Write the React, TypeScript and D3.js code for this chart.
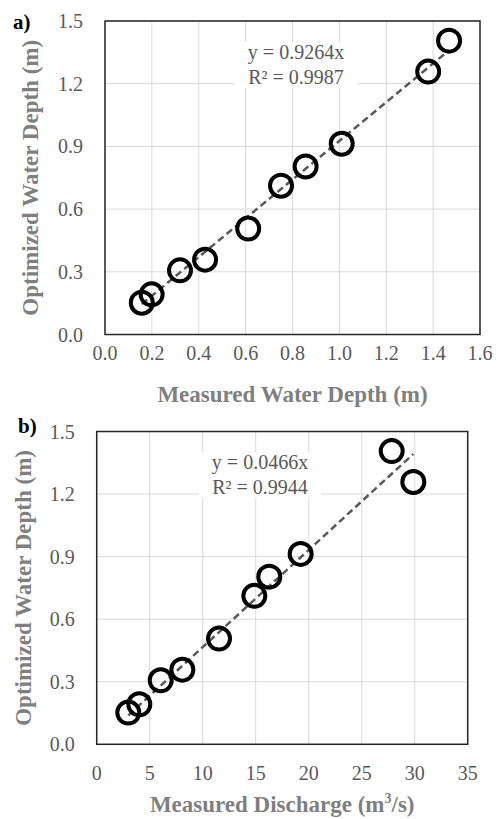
import React from "react";
import * as d3 from "d3";

// optimized water depth (m), shared by both panels
const optimizedDepth = [0.152, 0.192, 0.307, 0.358, 0.507, 0.712, 0.804, 0.913, 1.258, 1.406];
// panel a: measured water depth (m)
const measuredDepth = [0.157, 0.199, 0.32, 0.427, 0.611, 0.751, 0.856, 1.01, 1.379, 1.468];
// panel b: measured discharge (m3/s)
const measuredDischarge = [2.98, 4.02, 6.04, 8.08, 11.54, 14.87, 16.28, 19.24, 29.87, 27.83];

const depthTicks = [0, 0.2, 0.4, 0.6, 0.8, 1.0, 1.2, 1.4, 1.6];
const dischargeTicks = [0, 5, 10, 15, 20, 25, 30, 35];
const yTicks = [0, 0.3, 0.6, 0.9, 1.2, 1.5];

const slopeA = 0.9264;
const slopeB = 0.0466;
const eqA = ["y = 0.9264x", "R² = 0.9987"];
const eqB = ["y = 0.0466x", "R² = 0.9944"];

const FONT = "'Liberation Serif', 'Times New Roman', serif";
const TICK = "#595959";
const TITLE = "#7f7f7f";

type PanelProps = {
  xs: number[];
  xTicks: number[];
  xFmt: (v: number) => string;
  slope: number;
  eq: string[];
  box: { left: number; top: number; right: number; bottom: number };
  eqX: number;
  eqY: number;
  tag: string;
  tagX: number;
  tagY: number;
  yTitleX: number;
  xTickY: number;
  xTitleY: number;
  xTitle: React.ReactNode;
};

function Panel(p: PanelProps) {
  const { box } = p;
  const x = d3
    .scaleLinear()
    .domain([p.xTicks[0], p.xTicks[p.xTicks.length - 1]])
    .range([box.left, box.right]);
  const y = d3.scaleLinear().domain([0, 1.5]).range([box.bottom, box.top]);

  const x0 = d3.min(p.xs)!;
  const x1 = d3.max(p.xs)!;
  const trend = d3
    .line<number>()
    .x((d) => x(d))
    .y((d) => y(p.slope * d))([x0, x1]);

  const yFmt = d3.format(".1f");
  const midY = (box.top + box.bottom) / 2;

  return (
    <g>
      {/* grid */}
      {p.xTicks.map((t) => (
        <line key={"gx" + t} x1={x(t)} x2={x(t)} y1={box.top} y2={box.bottom} stroke="#d9d9d9" strokeWidth={1} />
      ))}
      {yTicks.map((t) => (
        <line key={"gy" + t} x1={box.left} x2={box.right} y1={y(t)} y2={y(t)} stroke="#d9d9d9" strokeWidth={1} />
      ))}

      {/* equation label with white background */}
      <rect x={p.eqX - 61} y={p.eqY - 17} width={122} height={46} fill="#fff" />
      {p.eq.map((s, i) => (
        <text key={s} x={p.eqX} y={p.eqY + i * 25} textAnchor="middle" fontFamily={FONT} fontSize={20} fill={TICK}>
          {s}
        </text>
      ))}

      <path d={trend!} fill="none" stroke="#595959" strokeWidth={2.5} strokeDasharray="7,4" />

      {p.xs.map((v, i) => (
        <circle key={i} cx={x(v)} cy={y(optimizedDepth[i])} r={11} fill="none" stroke="#000" strokeWidth={4} />
      ))}

      <rect
        x={box.left}
        y={box.top}
        width={box.right - box.left}
        height={box.bottom - box.top}
        fill="none"
        stroke="#262626"
        strokeWidth={1.5}
      />

      {/* tick labels */}
      {p.xTicks.map((t) => (
        <text key={"tx" + t} x={x(t)} y={p.xTickY} textAnchor="middle" fontFamily={FONT} fontSize={20} fill={TICK}>
          {p.xFmt(t)}
        </text>
      ))}
      {yTicks.map((t) => (
        <text
          key={"ty" + t}
          x={box.left - 22}
          y={y(t)}
          textAnchor="end"
          dominantBaseline="central"
          fontFamily={FONT}
          fontSize={20}
          fill={TICK}
        >
          {yFmt(t)}
        </text>
      ))}

      {/* titles */}
      <text
        x={(box.left + box.right) / 2}
        y={p.xTitleY}
        textAnchor="middle"
        fontFamily={FONT}
        fontSize={23}
        fontWeight="bold"
        fill={TITLE}
      >
        {p.xTitle}
      </text>
      <text
        transform={`translate(${p.yTitleX},${midY}) rotate(-90)`}
        textAnchor="middle"
        fontFamily={FONT}
        fontSize={23}
        fontWeight="bold"
        fill={TITLE}
      >
        Optimized Water Depth (m)
      </text>
      <text x={p.tagX} y={p.tagY} fontFamily={FONT} fontSize={21} fontWeight="bold" fill="#000">
        {p.tag}
      </text>
    </g>
  );
}

export default function App() {
  return (
    <div style={{ position: "absolute", left: 0, top: 0 }}>
      <svg width={502} height={819} style={{ display: "block", background: "#fff" }}>
        <Panel
          xs={measuredDepth}
          xTicks={depthTicks}
          xFmt={d3.format(".1f")}
          slope={slopeA}
          eq={eqA}
          box={{ left: 105, top: 21, right: 480, bottom: 334.5 }}
          eqX={296}
          eqY={59}
          tag="a)"
          tagX={13}
          tagY={29}
          yTitleX={38}
          xTickY={360}
          xTitleY={402}
          xTitle="Measured Water Depth (m)"
        />
        <Panel
          xs={measuredDischarge}
          xTicks={dischargeTicks}
          xFmt={d3.format("d")}
          slope={slopeB}
          eq={eqB}
          box={{ left: 96.7, top: 431.5, right: 467.7, bottom: 744.3 }}
          eqX={260}
          eqY={469}
          tag="b)"
          tagX={18}
          tagY={433}
          yTitleX={31}
          xTickY={780}
          xTitleY={812}
          xTitle={
            <>
              Measured Discharge (m<tspan fontSize={14} dy={-9}>3</tspan>
              <tspan dy={9}>/s)</tspan>
            </>
          }
        />
      </svg>
    </div>
  );
}
